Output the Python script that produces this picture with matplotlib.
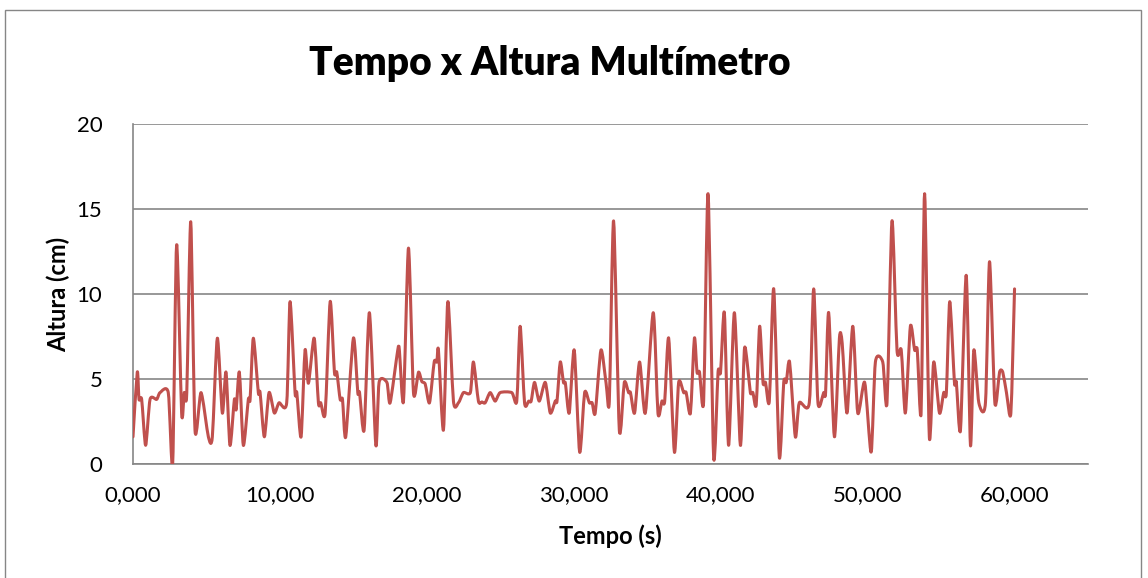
import matplotlib
matplotlib.use("Agg")
import matplotlib.pyplot as plt
from matplotlib.path import Path
from matplotlib.patches import PathPatch, Rectangle
from matplotlib.ticker import FuncFormatter

# tempo (s) e altura (cm) (pontos de virada)
tempo = [0.00, 0.29, 0.41, 0.59, 0.86, 1.16, 1.61, 1.84, 2.40, 2.70,
         2.97, 3.31, 3.49, 3.66, 3.93, 4.22, 4.63, 5.13, 5.40, 5.74,
         6.08, 6.33, 6.60, 6.90, 7.02, 7.24, 7.51, 7.85, 7.97, 8.19,
         8.53, 8.65, 8.94, 9.26, 9.62, 9.94, 10.46, 10.69, 11.03, 11.15,
         11.44, 11.71, 11.94, 12.33, 12.62, 12.78, 13.08, 13.42, 13.71, 13.87,
         14.10, 14.26, 14.48, 15.00, 15.30, 15.42, 15.73, 16.09, 16.53, 16.75,
         17.28, 17.50, 18.02, 18.13, 18.41, 18.75, 19.09, 19.43, 19.66, 19.89,
         20.18, 20.50, 20.68, 20.79, 21.13, 21.43, 21.81, 22.15, 22.49, 22.96,
         23.17, 23.51, 23.75, 23.97, 24.31, 24.65, 24.99, 25.78, 26.12, 26.35,
         26.65, 26.93, 27.10, 27.33, 27.65, 28.06, 28.40, 28.74, 28.86, 29.08,
         29.30, 29.43, 29.69, 30.03, 30.40, 30.74, 31.06, 31.25, 31.46, 31.85,
         32.20, 32.42, 32.71, 33.10, 33.44, 33.73, 33.86, 34.14, 34.48, 34.87,
         35.41, 35.73, 36.00, 36.19, 36.46, 36.85, 37.14, 37.48, 37.65, 37.94,
         38.21, 38.39, 38.56, 38.84, 39.14, 39.52, 39.82, 39.99, 40.25, 40.54,
         40.93, 41.34, 41.61, 41.80, 42.02, 42.19, 42.42, 42.65, 42.88, 43.05,
         43.31, 43.61, 43.99, 44.29, 44.46, 44.69, 45.08, 45.35, 46.03, 46.33,
         46.62, 47.01, 47.14, 47.35, 47.74, 48.08, 48.27, 48.60, 48.99, 49.33,
         49.80, 50.24, 50.53, 51.03, 51.32, 51.66, 52.00, 52.29, 52.57, 52.91,
         53.20, 53.38, 53.64, 53.88, 54.20, 54.50, 54.89, 55.18, 55.36, 55.59,
         55.91, 56.04, 56.32, 56.71, 57.00, 57.23, 57.57, 58.02, 58.30, 58.66,
         58.98, 59.20, 59.45, 59.75, 60.00]
altura = [1.6, 5.4, 3.8, 3.8, 1.1, 3.8, 3.8, 4.2, 4.2, 0.0,
          12.9, 3.0, 4.2, 4.2, 14.25, 2.0, 4.2, 1.6, 1.6, 7.4,
          3.0, 5.4, 1.1, 3.8, 3.2, 5.4, 1.1, 3.8, 3.8, 7.4,
          4.2, 4.2, 1.6, 4.2, 3.0, 3.6, 3.6, 9.55, 4.2, 4.2,
          1.6, 6.7, 4.75, 7.4, 3.6, 3.6, 3.0, 9.55, 5.4, 5.4,
          3.8, 3.8, 1.6, 7.4, 4.2, 4.2, 2.0, 8.9, 1.1, 4.8,
          4.8, 3.6, 6.7, 6.7, 3.7, 12.7, 4.2, 5.4, 4.85, 4.7,
          3.6, 6.0, 6.0, 6.7, 2.0, 9.55, 3.7, 3.6, 4.2, 4.2,
          6.0, 3.7, 3.65, 3.6, 4.2, 3.7, 4.2, 4.2, 3.7, 8.1,
          3.6, 3.7, 3.7, 4.8, 3.7, 4.8, 3.0, 3.7, 3.7, 6.0,
          4.8, 4.75, 3.0, 6.7, 0.7, 4.2, 3.6, 3.6, 3.0, 6.7,
          4.75, 3.7, 14.3, 2.0, 4.8, 4.2, 4.2, 3.0, 6.0, 3.0,
          8.9, 3.0, 3.7, 3.7, 7.4, 0.7, 4.8, 4.2, 4.2, 3.0,
          7.4, 5.4, 5.4, 3.7, 15.9, 0.4, 5.4, 5.4, 8.9, 1.1,
          8.9, 1.1, 6.7, 6.0, 4.2, 4.2, 3.5, 8.1, 4.8, 4.8,
          3.7, 10.3, 0.4, 4.8, 4.8, 6.0, 1.6, 3.6, 3.6, 10.3,
          3.6, 4.2, 4.2, 8.9, 1.6, 7.4, 7.1, 3.0, 8.1, 3.0,
          4.8, 0.7, 6.0, 6.0, 3.6, 14.3, 6.7, 6.7, 3.0, 8.1,
          6.7, 6.7, 3.0, 15.9, 1.6, 6.0, 3.0, 4.2, 4.2, 9.55,
          4.8, 4.8, 2.0, 11.1, 1.1, 6.7, 3.6, 3.6, 11.9, 3.6,
          5.4, 5.4, 4.2, 3.0, 10.3]

x_ticks = [0, 10, 20, 30, 40, 50, 60]
y_ticks = [0, 5, 10, 15, 20]

FONT = ["Lato", "DejaVu Sans"]
plt.rcParams["font.family"] = FONT

fig = plt.figure(figsize=(11.48, 5.78), dpi=100)
ax = fig.add_axes([133 / 1148, 1 - 464 / 578, 955 / 1148, 340 / 578])

K = 0.12  # tensao da suavizacao


def smooth_path(xs, ys):
  """linha suavizada estilo Excel (bezier entre os pontos)"""
  pts = list(zip(xs, ys))
  verts = [pts[0]]
  codes = [Path.MOVETO]
  n = len(pts)
  for i in range(n - 1):
    p0 = pts[i - 1] if i > 0 else pts[i]
    p1 = pts[i]
    p2 = pts[i + 1]
    p3 = pts[i + 2] if i + 2 < n else pts[i + 1]
    c1 = (p1[0] + (p2[0] - p0[0]) * K, p1[1] + (p2[1] - p0[1]) * K)
    c2 = (p2[0] - (p3[0] - p1[0]) * K, p2[1] - (p3[1] - p1[1]) * K)
    verts += [c1, c2, p2]
    codes += [Path.CURVE4] * 3
  return Path(verts, codes)


patch = PathPatch(smooth_path(tempo, altura), facecolor="none",
                  edgecolor="#C0504D", lw=2.2, joinstyle="round",
                  capstyle="round", zorder=3)
ax.add_patch(patch)

ax.set_xlim(0, 65)
ax.set_ylim(0, 20)
ax.set_xticks(x_ticks)
ax.set_yticks(y_ticks)
ax.xaxis.set_major_formatter(FuncFormatter(lambda v, p: f"{v:.3f}".replace(".", ",")))
ax.tick_params(length=0, labelsize=16, colors="black")
ax.tick_params(axis="x", pad=15)
ax.tick_params(axis="y", pad=22)

ax.grid(axis="y", color="#868686", lw=1.2)
ax.set_axisbelow(True)
for s in ["top", "right"]:
  ax.spines[s].set_visible(False)
for s in ["left", "bottom"]:
  ax.spines[s].set_color("#868686")
  ax.spines[s].set_linewidth(1.2)

ax.set_xlabel("Tempo (s)", fontsize=17, fontweight="bold", labelpad=14)
ax.set_ylabel("Altura (cm)", fontsize=17, fontweight="bold", labelpad=5)
fig.text(550 / 1148, 1 - 64 / 578, "Tempo x Altura Multímetro", fontsize=28,
         fontweight="heavy", ha="center", va="center")

# moldura do grafico
fig.patches.append(Rectangle((5 / 1148, -0.05), 1136 / 1148, (568 / 578) + 0.05,
                             transform=fig.transFigure, fill=False,
                             edgecolor="#868686", lw=1.0))

fig.savefig("out.png", dpi=100)
